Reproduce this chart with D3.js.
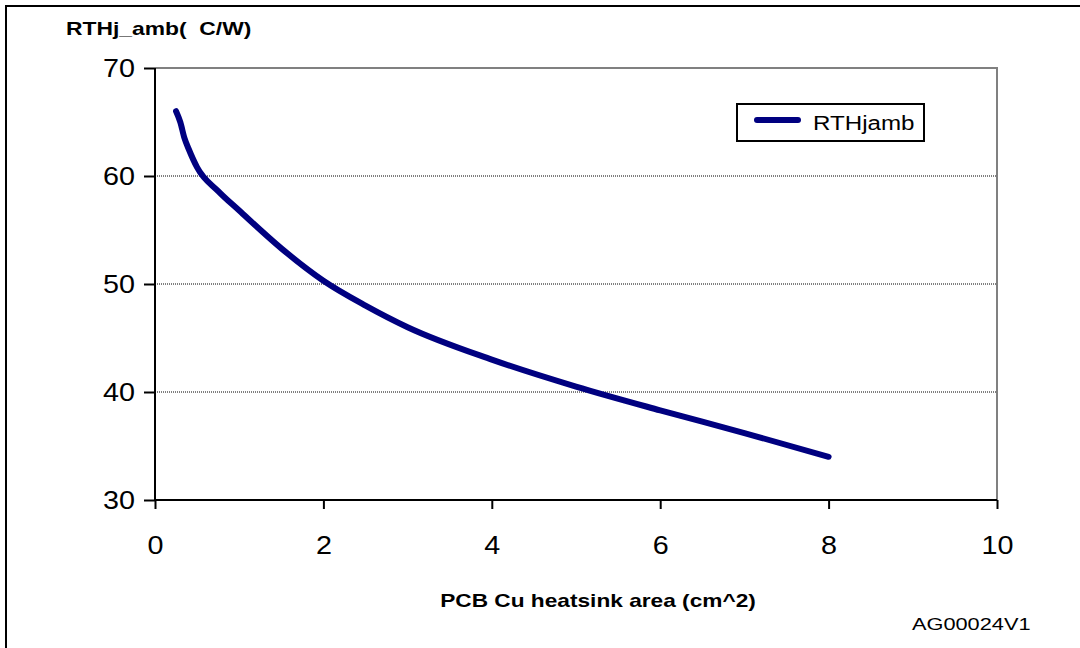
<!DOCTYPE html>
<html>
<head>
<meta charset="utf-8">
<script src="https://cdn.jsdelivr.net/npm/d3@7"></script>
<style>
  html, body { margin: 0; padding: 0; background: #fff; }
  svg { display: block; font-family: "Liberation Sans", Arial, sans-serif; }
</style>
</head>
<body>
<svg id="chart" width="1080" height="648"></svg>
<script>
// ---- data ----
const areaCm2 = [0.25, 0.3, 0.35, 0.4, 0.5, 0.75, 1, 1.5, 2, 2.5, 3, 4, 5, 6, 7, 8];
const rthjamb = [66, 65, 63.5, 62.5, 60.8, 58.6, 56.8, 53.3, 50.3, 48, 46, 43, 40.5, 38.3, 36.2, 34];
const xTicks = [0, 2, 4, 6, 8, 10];
const yTicks = [30, 40, 50, 60, 70];
const seriesName = "RTHjamb";
const yTitle = "RTHj_amb(  C/W)";
const xTitle = "PCB Cu heatsink area (cm^2)";
const figCode = "AG00024V1";

const svg = d3.select("#chart");
const W = 1080, H = 648;
svg.append("rect").attr("width", W).attr("height", H).attr("fill", "#fff");

function stretch(sel, s, origin) {
  sel.style("transform-box", "fill-box")
     .style("transform-origin", origin)
     .style("transform", `scaleX(${s})`);
}

// outer frame (top + left)
svg.append("line").attr("x1", 5).attr("x2", W).attr("y1", 6).attr("y2", 6)
  .attr("stroke", "#000").attr("stroke-width", 2);
svg.append("line").attr("x1", 6).attr("x2", 6).attr("y1", 5).attr("y2", H)
  .attr("stroke", "#000").attr("stroke-width", 2);

const pLeft = 155, pRight = 997, pTop = 68, pBottom = 500;
const x = d3.scaleLinear().domain([0, 10]).range([pLeft, pRight]);
const y = d3.scaleLinear().domain([30, 70]).range([pBottom, pTop]);

// plot area border (gray)
svg.append("path")
  .attr("d", `M${pLeft},${pTop}H${pRight}V${pBottom}`)
  .attr("fill", "none").attr("stroke", "#808080").attr("stroke-width", 2);

// gridlines
svg.append("g").selectAll("line").data(yTicks.filter(d => d > 30 && d < 70)).join("line")
  .attr("x1", pLeft).attr("x2", pRight)
  .attr("y1", d => y(d)).attr("y2", d => y(d))
  .attr("stroke", "#000").attr("stroke-width", 1).attr("stroke-dasharray", "1,1");

// axes
const yAxis = d3.axisLeft(y).tickValues(yTicks).tickSize(11).tickPadding(9);
const gy = svg.append("g").attr("transform", `translate(${pLeft},0)`).call(yAxis);
const xAxis = d3.axisBottom(x).tickValues(xTicks).tickSize(9).tickPadding(27);
const gx = svg.append("g").attr("transform", `translate(0,${pBottom})`).call(xAxis);
[gx, gy].forEach(g => {
  g.select(".domain").attr("stroke", "#000").attr("stroke-width", 2);
  g.selectAll(".tick line").attr("stroke", "#000").attr("stroke-width", 2);
  g.selectAll(".tick text").attr("fill", "#000")
    .style("font-size", "25px").style("font-family", "'Liberation Sans', Arial, sans-serif");
});
gx.selectAll(".tick text").attr("dy", 0).attr("y", 9 + 27 + 18);
stretch(gx.selectAll(".tick text"), 1.15, "center center");
stretch(gy.selectAll(".tick text"), 1.15, "right center");
gx.select(".domain").attr("d", `M${pLeft},0H${pRight}`);
gy.select(".domain").attr("d", `M0,${pBottom}V${pTop}`);

// curve
const line = d3.line().x((d, i) => x(areaCm2[i])).y(d => y(d)).curve(d3.curveMonotoneX);
svg.append("path").datum(rthjamb)
  .attr("d", line)
  .attr("fill", "none").attr("stroke", "#000080").attr("stroke-width", 6)
  .attr("stroke-linecap", "round").attr("stroke-linejoin", "round");

// legend
const lg = svg.append("g");
lg.append("rect").attr("x", 737).attr("y", 104).attr("width", 187).attr("height", 37)
  .attr("fill", "#fff").attr("stroke", "#000").attr("stroke-width", 2);
lg.append("line").attr("x1", 757).attr("x2", 798).attr("y1", 120).attr("y2", 120)
  .attr("stroke", "#000080").attr("stroke-width", 6).attr("stroke-linecap", "round");
const lt = lg.append("text").attr("x", 813).attr("y", 130).text(seriesName)
  .style("font-size", "21px").attr("fill", "#000");
stretch(lt, 1.15, "left center");

// titles
const t1 = svg.append("text").attr("x", 66).attr("y", 35).text(yTitle)
  .style("font-size", "18px").style("font-weight", "bold").style("white-space", "pre")
  .attr("xml:space", "preserve").attr("fill", "#000");
stretch(t1, 1.27, "left center");
const t2 = svg.append("text").attr("x", 598).attr("y", 607).attr("text-anchor", "middle").text(xTitle)
  .style("font-size", "18px").style("font-weight", "bold").attr("fill", "#000");
stretch(t2, 1.26, "center center");
const t3 = svg.append("text").attr("x", 912).attr("y", 630).text(figCode)
  .style("font-size", "17px").attr("fill", "#000");
stretch(t3, 1.28, "left center");
</script>
</body>
</html>
